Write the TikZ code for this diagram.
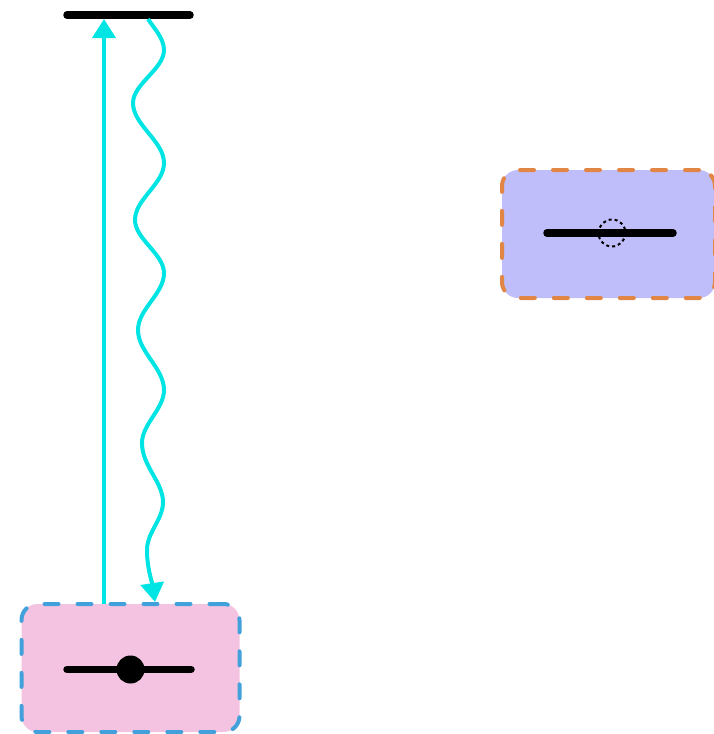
\documentclass[tikz,border=0pt]{standalone}
\usetikzlibrary{arrows.meta}
\definecolor{cyanline}{RGB}{0,228,228}
\definecolor{pinkfill}{RGB}{244,195,225}
\definecolor{bluedash}{RGB}{66,160,219}
\definecolor{purplefill}{RGB}{192,190,250}
\definecolor{orangedash}{RGB}{226,134,70}
\tikzset{
  statebox/.style={rectangle, rounded corners=16pt, line width=4pt, line cap=round,
    dash pattern=on 14pt off 19pt, inner sep=0pt, minimum height=128pt},
  level/.style={line width=7.5pt, line cap=round, black},
  transition/.style={line width=4pt, cyanline, -{Triangle[length=19pt,width=23pt]}},
}
\begin{document}
\begin{tikzpicture}[x=1pt,y=-1pt]
\useasboundingbox (0,0) rectangle (713,734);
% boxes
\node[statebox, fill=pinkfill, draw=bluedash, minimum width=218pt] (ground) at (130.5,668) {};
\node[statebox, fill=purplefill, draw=orangedash, minimum width=213pt] (ion) at (608.5,234) {};
% levels
\draw[level] (67,15) -- (190,15);
\draw[level] (67,669.5) -- (191,669.5);
\draw[level] (547,233) -- (673,233);
\fill (130.5,669.5) circle (14);
\draw[line width=2pt, dash pattern=on 3pt off 3pt] (612,233) circle (13.5);
% transitions
\coordinate (upS) at (104,604);
\coordinate (upE) at (104,19);
\coordinate (dnS) at (148,19);
\coordinate (dnE) at (155,602);
\draw[transition] (upS) -- (upE);
\draw[transition] (dnS)
  .. controls (153,27) and (164,38) .. (164,50)
  .. controls (164,69) and (133,84) .. (133,103)
  .. controls (133,125) and (164,141) .. (164,163)
  .. controls (164,184) and (135,199) .. (135,220)
  .. controls (135,239) and (164,254) .. (164,273)
  .. controls (164,294) and (138,309) .. (138,330)
  .. controls (138,352) and (164,368) .. (164,390)
  .. controls (164,409) and (142,424) .. (142,443)
  .. controls (142,466) and (163,482) .. (163,502)
  .. controls (163,520) and (147,532) .. (147,550)
  .. controls (147,568) and (152,582) .. (dnE);
\end{tikzpicture}
\end{document}
